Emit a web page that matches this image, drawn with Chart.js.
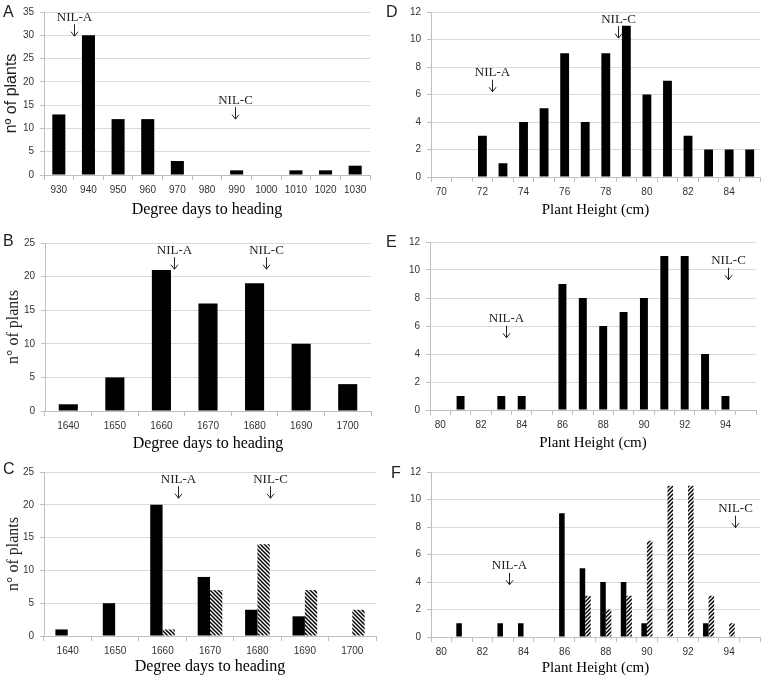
<!DOCTYPE html>
<html>
<head>
<meta charset="utf-8">
<script src="https://cdn.jsdelivr.net/npm/chart.js@4.4.1/dist/chart.umd.min.js"></script>
<style>
  body { margin: 0; background: #fff; width: 763px; height: 679px; position: relative; overflow: hidden; }
  canvas { position: absolute; }
</style>
</head>
<body>
<canvas id="cA"></canvas>
<canvas id="cB"></canvas>
<canvas id="cC"></canvas>
<canvas id="cD"></canvas>
<canvas id="cE"></canvas>
<canvas id="cF"></canvas>
<script>
// ---- data ----
const daysA = ['930', '940', '950', '960', '970', '980', '990', '1000', '1010', '1020', '1030'];
const plantsA = [13, 30, 12, 12, 3, 0, 1, 0, 1, 1, 2];

const daysBC = ['1640', '1650', '1660', '1670', '1680', '1690', '1700'];
const plantsB = [1, 5, 21, 16, 19, 10, 4];
const plantsC_black = [1, 5, 20, 9, 4, 3, 0];
const plantsC_hatch = [0, 0, 1, 7, 14, 7, 4];

const heightD = ['70', '71', '72', '73', '74', '75', '76', '77', '78', '79', '80', '81', '82', '83', '84', '85'];
const plantsD = [0, 0, 3, 1, 4, 5, 9, 4, 9, 11, 6, 7, 3, 2, 2, 2];

const heightEF = ['80', '81', '82', '83', '84', '85', '86', '87', '88', '89', '90', '91', '92', '93', '94', '95'];
const plantsE = [0, 1, 0, 1, 1, 0, 9, 8, 6, 7, 8, 11, 11, 4, 1, 0];
const plantsF_black = [0, 1, 0, 1, 1, 0, 9, 5, 4, 4, 1, 0, 0, 1, 0, 0];
const plantsF_hatch = [0, 0, 0, 0, 0, 0, 0, 3, 2, 3, 7, 11, 11, 3, 1, 0];

// NIL arrows: x = category index, y = value at arrow tip
const nilA = [{ label: 'NIL-A', x: 0.5, y: 29.8 }, { label: 'NIL-C', x: 5.95, y: 12 }];
const nilB = [{ label: 'NIL-A', x: 2.26, y: 21.1 }, { label: 'NIL-C', x: 4.25, y: 21.1 }];
const nilC = [{ label: 'NIL-A', x: 2.33, y: 21 }, { label: 'NIL-C', x: 4.27, y: 21 }];
const nilD = [{ label: 'NIL-A', x: 2.48, y: 6.2 }, { label: 'NIL-C', x: 8.58, y: 10.1 }];
const nilE = [{ label: 'NIL-A', x: 3.22, y: 5.16 }, { label: 'NIL-C', x: 14.12, y: 9.3 }];
const nilF = [{ label: 'NIL-A', x: 3.31, y: 3.8 }, { label: 'NIL-C', x: 14.27, y: 7.95 }];

const GRID = '#d9d9d9';
const AXIS = '#bfbfbf';
const TXT = '#333';
const SANS = "'Liberation Sans', Arial, sans-serif";
const SERIF = "'Liberation Serif', 'Times New Roman', serif";

// every other label on the plant height axes
const everyOther = arr => arr.map((l, i) => (i % 2 ? '' : l));

function hatch(ctx, dir) {
  const c = document.createElement('canvas');
  c.width = c.height = 4;
  const g = c.getContext('2d');
  g.fillStyle = '#fff';
  g.fillRect(0, 0, 4, 4);
  g.strokeStyle = '#000';
  g.lineWidth = 1.5;
  g.beginPath();
  if (dir === 'back') {
    g.moveTo(-1, -1); g.lineTo(5, 5);
    g.moveTo(-1, 3); g.lineTo(1, 5);
    g.moveTo(3, -1); g.lineTo(5, 1);
  } else {
    g.moveTo(-1, 5); g.lineTo(5, -1);
    g.moveTo(-1, 1); g.lineTo(1, -1);
    g.moveTo(3, 5); g.lineTo(5, 3);
  }
  g.stroke();
  return ctx.createPattern(c, 'repeat');
}

// panel letter + NIL arrows
const marks = {
  id: 'marks',
  afterDraw(chart, args, o) {
    const { ctx, scales: { x, y } } = chart;
    ctx.save();
    ctx.fillStyle = '#222';
    ctx.strokeStyle = '#222';
    ctx.lineWidth = 1;
    ctx.font = '16px ' + SANS;
    ctx.textAlign = 'left';
    ctx.textBaseline = 'middle';
    ctx.fillText(o.letter, o.lx, o.ly);

    ctx.font = '13px ' + SERIF;
    ctx.textAlign = 'center';
    o.nil.forEach(n => {
      const px = Math.round(x.getPixelForValue(n.x)) + 0.5;
      const py = y.getPixelForValue(n.y);
      ctx.fillText(n.label, px, py - 19);
      ctx.beginPath();
      ctx.moveTo(px, py - 12);
      ctx.lineTo(px, py);
      ctx.moveTo(px - 3.5, py - 4.5);
      ctx.lineTo(px, py);
      ctx.lineTo(px + 3.5, py - 4.5);
      ctx.stroke();
    });
    ctx.restore();
  }
};

function panel(p) {
  const g = p.geo;
  const cv = document.getElementById(p.id);
  cv.width = g.w;
  cv.height = g.h;
  cv.style.left = g.x0 + 'px';
  cv.style.top = g.y0 + 'px';
  const ctx = cv.getContext('2d');

  const datasets = p.sets.map(s => ({
    data: s.data,
    backgroundColor: s.hatch ? hatch(ctx, s.hatch) : '#000',
    borderWidth: 0,
    barPercentage: 1,
    categoryPercentage: p.cp
  }));

  return new Chart(ctx, {
    type: 'bar',
    data: { labels: p.labels, datasets },
    plugins: [marks],
    options: {
      responsive: false,
      animation: false,
      devicePixelRatio: 1,
      layout: { padding: { top: g.t, right: g.w - g.r, left: 0, bottom: 0 } },
      plugins: {
        legend: { display: false },
        tooltip: { enabled: false },
        marks: { letter: p.letter, lx: g.lx, ly: g.ly, nil: p.nil }
      },
      scales: {
        x: {
          grid: { display: true, drawOnChartArea: false, drawTicks: true, tickLength: 5, tickColor: AXIS, offset: true },
          border: { color: AXIS },
          ticks: {
            autoSkip: false, maxRotation: 0, padding: 4, color: TXT,
            font: { family: SANS, size: 10 },
            callback: (v, i) => p.ticks[i]
          },
          title: {
            display: true, text: p.xTitle, color: '#000',
            font: { family: SERIF, size: p.xSize },
            padding: { top: 0, bottom: g.xtp }
          },
          afterFit: s => { s.height = g.h - g.b; }
        },
        y: {
          min: 0,
          max: p.yMax,
          ticks: { stepSize: p.yStep, padding: 6, color: TXT, font: { family: SANS, size: 10 } },
          grid: { color: GRID, tickColor: AXIS, tickLength: 4 },
          border: { color: AXIS },
          title: p.yTitle ? {
            display: true, text: p.yTitle, color: '#222',
            font: { family: p.yFont, size: 16 },
            padding: { top: g.ytp, bottom: 0 }
          } : { display: false },
          afterFit: s => { s.width = g.l; }
        }
      }
    }
  });
}

panel({
  id: 'cA', letter: 'A', labels: daysA, ticks: daysA, cp: 0.44,
  sets: [{ data: plantsA }],
  yMax: 35, yStep: 5, xTitle: 'Degree days to heading', xSize: 16,
  yTitle: 'nº of plants', yFont: SANS, nil: nilA,
  geo: { x0: 0, y0: 0, w: 380, h: 225, l: 44, r: 370, t: 8, b: 175, xtp: 5.5, ytp: 2, lx: 3, ly: 13 }
});

panel({
  id: 'cB', letter: 'B', labels: daysBC, ticks: daysBC, cp: 0.41,
  sets: [{ data: plantsB }],
  yMax: 25, yStep: 5, xTitle: 'Degree days to heading', xSize: 16,
  yTitle: 'n° of plants', yFont: SERIF, nil: nilB,
  geo: { x0: 0, y0: 215, w: 380, h: 240, l: 45, r: 371, t: 28, b: 196, xtp: 2, ytp: 4, lx: 3, ly: 27 }
});

panel({
  id: 'cC', letter: 'C', labels: daysBC, ticks: daysBC, cp: 0.52,
  sets: [{ data: plantsC_black }, { data: plantsC_hatch, hatch: 'back' }],
  yMax: 25, yStep: 5, xTitle: 'Degree days to heading', xSize: 16,
  yTitle: 'n° of plants', yFont: SERIF, nil: nilC,
  geo: { x0: 0, y0: 440, w: 380, h: 239, l: 44, r: 376, t: 32, b: 196, xtp: 2.5, ytp: 4.5, lx: 3, ly: 30 }
});

panel({
  id: 'cD', letter: 'D', labels: heightD, ticks: everyOther(heightD), cp: 0.43,
  sets: [{ data: plantsD }],
  yMax: 12, yStep: 2, xTitle: 'Plant Height (cm)', xSize: 15,
  yTitle: null, nil: nilD,
  geo: { x0: 383, y0: 0, w: 380, h: 225, l: 48, r: 377, t: 9, b: 177, xtp: 6, lx: 3, ly: 13 }
});

panel({
  id: 'cE', letter: 'E', labels: heightEF, ticks: everyOther(heightEF), cp: 0.39,
  sets: [{ data: plantsE }],
  yMax: 12, yStep: 2, xTitle: 'Plant Height (cm)', xSize: 15,
  yTitle: null, nil: nilE,
  geo: { x0: 383, y0: 215, w: 380, h: 240, l: 47, r: 373, t: 27, b: 195, xtp: 2.5, lx: 3, ly: 27.5 }
});

panel({
  id: 'cF', letter: 'F', labels: heightEF, ticks: everyOther(heightEF), cp: 0.54,
  sets: [{ data: plantsF_black }, { data: plantsF_hatch, hatch: 'fwd' }],
  yMax: 12, yStep: 2, xTitle: 'Plant Height (cm)', xSize: 15,
  yTitle: null, nil: nilF,
  geo: { x0: 383, y0: 440, w: 380, h: 239, l: 48, r: 377, t: 32, b: 197, xtp: 1.5, lx: 8, ly: 34 }
});
</script>
</body>
</html>
